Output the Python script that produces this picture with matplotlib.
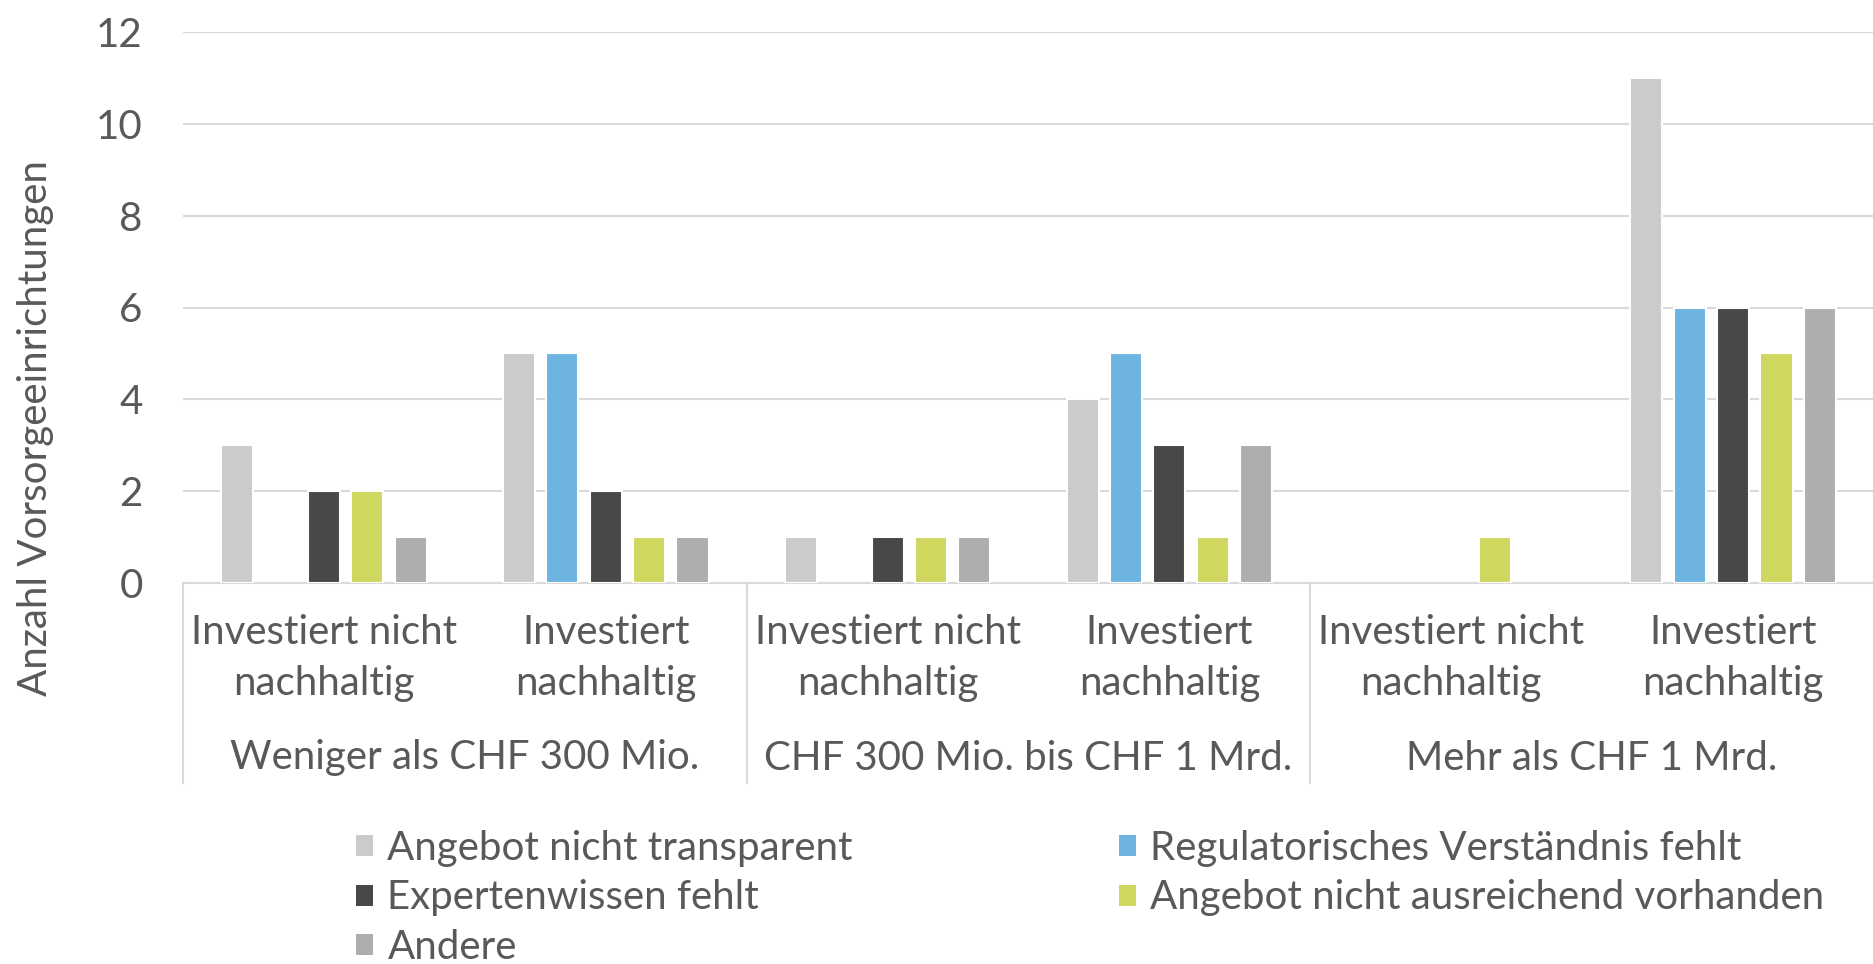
import numpy as np
import matplotlib
matplotlib.use("Agg")
import matplotlib.pyplot as plt
import matplotlib.transforms as mtransforms
from matplotlib.patches import Patch

# Data
groups = ["Weniger als CHF 300 Mio.", "CHF 300 Mio. bis CHF 1 Mrd.", "Mehr als CHF 1 Mrd."]
sub_labels = ["Investiert nicht\nnachhaltig", "Investiert\nnachhaltig"]
series_names = ["Angebot nicht transparent", "Regulatorisches Verständnis fehlt",
                "Expertenwissen fehlt", "Angebot nicht ausreichend vorhanden", "Andere"]
angebot_nicht_transparent = [3, 5, 1, 4, 0, 11]
regulatorisch = [0, 5, 0, 5, 0, 6]
expertenwissen = [2, 2, 1, 3, 0, 6]
angebot_nicht_ausreichend = [2, 1, 1, 1, 1, 5]
andere = [1, 1, 1, 3, 0, 6]
series = [angebot_nicht_transparent, regulatorisch, expertenwissen, angebot_nicht_ausreichend, andere]
colors = ["#CBCBCB", "#6DB5DE", "#484848", "#CFD75F", "#AEAEAE"]

txt_col = "#595959"
grid_col = "#D9D9D9"
fs = 29
plt.rcParams["font.family"] = ["Lato", "DejaVu Sans"]
plt.rcParams["font.weight"] = "normal"

W, H = 1874, 964
fig = plt.figure(figsize=(W / 100, H / 100), dpi=100)
ax = fig.add_axes([183 / W, 1 - 583 / H, 1 - 183 / W, (583 - 32) / H])

x = np.arange(len(series[0]))
pitch = 0.154
bw = 0.114
for i, (vals, col) in enumerate(zip(series, colors)):
    vals = np.array(vals)
    mask = vals > 0
    ax.bar(x[mask] + (i - 2) * pitch, vals[mask], width=bw, color=col,
           edgecolor="white", linewidth=1.5, zorder=3)

ax.set_xlim(-0.5, len(x) - 0.5)
ax.set_ylim(0, 12)
ax.set_yticks(range(0, 13, 2))
ax.tick_params(axis="y", length=0, pad=29, labelsize=fs, labelcolor=txt_col)
ax.set_xticks([])
ax.yaxis.grid(True, color=grid_col, linewidth=1.5, zorder=0)
ax.set_axisbelow(True)
for s in ["top", "right", "left"]:
    ax.spines[s].set_visible(False)
ax.spines["bottom"].set_color(grid_col)
ax.spines["bottom"].set_linewidth(1.5)

# category labels below axis
trans = mtransforms.blended_transform_factory(ax.transData, fig.transFigure)
for k in range(len(x)):
    lines = sub_labels[k % 2].split("\n")
    for j, line in enumerate(lines):
        ax.text(x[k], 1 - (633 + 51 * j) / H, line, transform=trans, ha="center", va="center",
                fontsize=fs, color=txt_col)
for g, name in enumerate(groups):
    ax.text(2 * g + 0.5, 1 - 758 / H, name, transform=trans, ha="center", va="center",
            fontsize=fs, color=txt_col)
for sep in np.arange(-0.5, len(x), 2):
    ax.plot([sep, sep], [1 - 583 / H, 1 - 783 / H], transform=trans, color=grid_col,
            linewidth=1.5, clip_on=False)

fig.text(36 / W, 1 - 428 / H, "Anzahl Vorsorgeeinrichtungen", rotation=90, ha="center",
         va="center", fontsize=fs, color=txt_col)

# legend (row-wise order as in Excel)
handles = [Patch(facecolor=c, label=n) for c, n in zip(colors, series_names)]
order = [0, 2, 4, 1, 3]
leg = fig.legend([handles[i] for i in order], [series_names[i] for i in order], ncol=2,
                 loc="upper left", bbox_to_anchor=(356 / W, 1 - 830 / H), frameon=False,
                 fontsize=fs, handlelength=0.43, handleheight=0.43, handletextpad=0.35,
                 labelspacing=0.31, columnspacing=6.6, borderpad=0, borderaxespad=0)
for t in leg.get_texts():
    t.set_color(txt_col)

fig.savefig("out.png", dpi=100)
